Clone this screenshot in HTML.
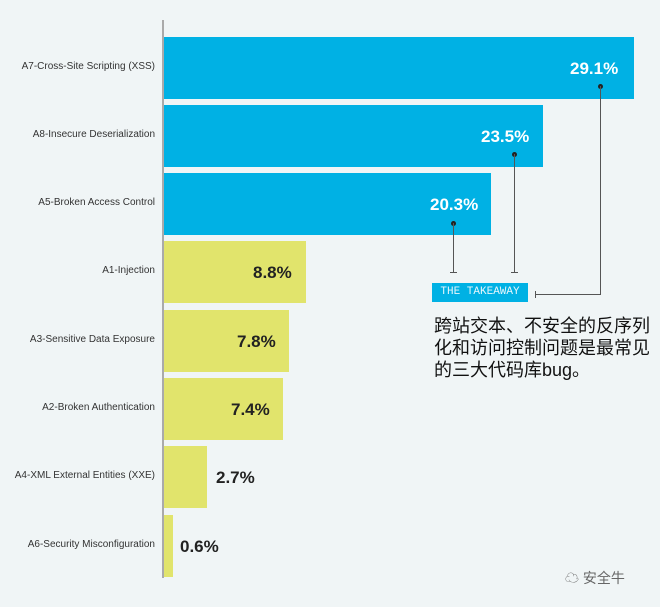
<!DOCTYPE html>
<html><head><meta charset="utf-8"><style>
body{margin:0;width:660px;height:607px;background:#f0f5f6;position:relative;overflow:hidden;font-family:"Liberation Sans","Noto Sans CJK SC",sans-serif}
.l{position:absolute;right:505px;font-size:10px;color:#333;text-align:right;white-space:nowrap}
.b{position:absolute;left:164px;height:62px}
.bl{background:#00b1e4}.ye{background:#e1e46c}
.v{position:absolute;font-size:17px;font-weight:bold;white-space:nowrap}
.w{color:#fff}.k{color:#222}
.ln{position:absolute;background:#555}
.dot{position:absolute;width:5px;height:5px;border-radius:50%;background:#222}
</style></head><body>
<div style="position:absolute;left:162px;top:20px;width:2px;height:558px;background:#aaa"></div>
<div class="b bl" style="top:37px;width:470px"></div><div class="l" style="top:61px">A7-Cross-Site Scripting (XSS)</div><div class="v w" style="left:570px;top:59px">29.1%</div>
<div class="b bl" style="top:105px;width:379px"></div><div class="l" style="top:129px">A8-Insecure Deserialization</div><div class="v w" style="left:481px;top:127px">23.5%</div>
<div class="b bl" style="top:173px;width:327px"></div><div class="l" style="top:197px">A5-Broken Access Control</div><div class="v w" style="left:430px;top:195px">20.3%</div>
<div class="b ye" style="top:241px;width:142px"></div><div class="l" style="top:265px">A1-Injection</div><div class="v k" style="left:253px;top:263px">8.8%</div>
<div class="b ye" style="top:310px;width:125px"></div><div class="l" style="top:334px">A3-Sensitive Data Exposure</div><div class="v k" style="left:237px;top:332px">7.8%</div>
<div class="b ye" style="top:378px;width:119px"></div><div class="l" style="top:402px">A2-Broken Authentication</div><div class="v k" style="left:231px;top:400px">7.4%</div>
<div class="b ye" style="top:446px;width:43px"></div><div class="l" style="top:470px">A4-XML External Entities (XXE)</div><div class="v k" style="left:216px;top:468px">2.7%</div>
<div class="b ye" style="top:515px;width:9px"></div><div class="l" style="top:539px">A6-Security Misconfiguration</div><div class="v k" style="left:180px;top:537px">0.6%</div>
<div class="dot" style="left:598px;top:84px"></div><div class="ln" style="left:600px;top:86px;width:1px;height:209px"></div><div class="ln" style="left:535px;top:294px;width:66px;height:1px"></div><div class="ln" style="left:535px;top:291px;width:1px;height:7px"></div>
<div class="dot" style="left:512px;top:152px"></div><div class="ln" style="left:514px;top:154px;width:1px;height:118px"></div><div class="ln" style="left:511px;top:272px;width:7px;height:1px"></div>
<div class="dot" style="left:451px;top:221px"></div><div class="ln" style="left:453px;top:223px;width:1px;height:49px"></div><div class="ln" style="left:450px;top:272px;width:7px;height:1px"></div>
<div style="position:absolute;left:432px;top:283px;width:96px;height:19px;background:#00b1e4;color:#e8f6fb;font-family:'Liberation Mono',monospace;font-size:11px;line-height:19px;text-align:center">THE TAKEAWAY</div>
<div style="position:absolute;left:434px;top:315px;width:222px;font-size:18px;line-height:22px;color:#111">跨站交本、不安全的反序列化和访问控制问题是最常见的三大代码库bug。</div>
<div style="position:absolute;left:565px;top:568px;font-size:14px;color:#666">☁ 安全牛</div>
</body></html>
